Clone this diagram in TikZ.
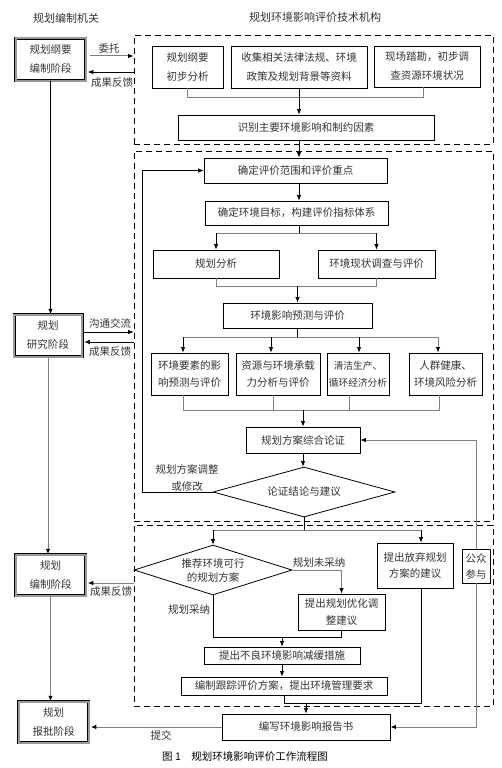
\documentclass[tikz,border=0pt]{standalone}
\usepackage{fontspec}
\setmainfont{Noto Sans CJK SC}
\usetikzlibrary{arrows.meta,shapes.geometric,calc}
\begin{document}
\begin{tikzpicture}[x=1pt,y=-1pt,
  txt/.style={text=black!80,font=\fontsize{10.5}{17}\selectfont,align=center,inner sep=0pt},
  box/.style={txt,draw=black,line width=0.8pt,fill=white},
  dbl/.style={txt,draw=black,line width=0.5pt,double=black!40,double distance=2pt,fill=white},
  dbox/.style={draw=black,line width=0.8pt,dash pattern=on 6pt off 4pt,inner sep=0pt},
  dia/.style={txt,draw=black,line width=0.8pt,diamond,fill=white},
  bl/.style={draw=black,line width=0.8pt},
  gl/.style={draw=black!50,line width=1pt},
  arr/.style={-{Latex[length=5.5pt,width=4.5pt,color=black]}}
]
\useasboundingbox (0,0) rectangle (502,768);

% titles
\node[txt,font=\fontsize{11}{13}\selectfont] (t1) at (66,18) {规划编制机关};
\node[txt,font=\fontsize{11}{13}\selectfont] (t2) at (315,17) {规划环境影响评价技术机构};

% dashed regions
\node[dbox,minimum width=359pt,minimum height=109pt] (D1) at (313.5,89.5) {};
\node[dbox,minimum width=359pt,minimum height=370pt] (D2) at (313.5,336) {};
\node[dbox,minimum width=359pt,minimum height=181pt] (D3) at (313.5,615.5) {};

% left column
\node[dbl,minimum width=70pt,minimum height=42pt,font=\fontsize{10.5}{19}\selectfont] (L1) at (50.5,59.5) {规划纲要\\编制阶段};
\node[dbl,minimum width=68pt,minimum height=42pt,font=\fontsize{10.5}{19}\selectfont] (L2) at (48,335.5) {规划\\研究阶段};
\node[dbl,minimum width=70pt,minimum height=41pt,font=\fontsize{10.5}{19}\selectfont] (L3) at (50.5,575) {规划\\编制阶段};
\node[dbl,minimum width=70pt,minimum height=41pt,font=\fontsize{10.5}{19}\selectfont] (L4) at (53.5,722) {规划\\报批阶段};

% top section
\node[box,minimum width=71pt,minimum height=42pt,font=\fontsize{10.5}{19}\selectfont] (A1) at (187.5,67) {规划纲要\\初步分析};
\node[box,minimum width=136pt,minimum height=42pt,font=\fontsize{10.5}{19}\selectfont] (A2) at (299,67) {收集相关法律法规、环境\\政策及规划背景等资料};
\node[box,minimum width=106pt,minimum height=41pt,font=\fontsize{10.5}{19}\selectfont] (A3) at (427,66.5) {现场踏勘，初步调\\查资源环境状况};
\node[box,minimum width=256pt,minimum height=25pt] (A4) at (306,127.5) {识别主要环境影响和制约因素};

% middle section
\node[box,minimum width=183pt,minimum height=25pt] (B1) at (295.5,170.5) {确定评价范围和评价重点};
\node[box,minimum width=183pt,minimum height=24pt] (B2) at (296.5,213) {确定环境目标，构建评价指标体系};
\node[box,minimum width=126pt,minimum height=28pt] (B3) at (216,264) {规划分析};
\node[box,minimum width=117pt,minimum height=28pt] (B4) at (376.5,264) {环境现状调查与评价};
\node[box,minimum width=149pt,minimum height=25pt] (B5) at (297.5,315.5) {环境影响预测与评价};
\node[box,minimum width=77pt,minimum height=42pt] (C1) at (189.5,374) {环境要素的影\\响预测与评价};
\node[box,minimum width=84pt,minimum height=42pt] (C2) at (278,374) {资源与环境承载\\力分析与评价};
\node[box,minimum width=62pt,minimum height=42pt,font=\fontsize{9.7}{17}\selectfont] (C3) at (358,374) {清洁生产、\\循环经济分析};
\node[box,minimum width=73pt,minimum height=42pt] (C4) at (445.5,374) {人群健康、\\环境风险分析};
\node[box,minimum width=114pt,minimum height=26pt] (B6) at (303,440) {规划方案综合论证};
\node[dia,shape aspect=3.64,minimum width=182pt,minimum height=50pt] (DM1) at (304,492) {论证结论与建议};
\node[txt] (adj) at (187,478) {规划方案调整\\或修改};

% bottom section
\node[dia,shape aspect=3.16,minimum width=158pt,minimum height=50pt,font=\fontsize{10.5}{14}\selectfont] (DM2) at (213,570) {推荐环境可行\\的规划方案};
\node[box,minimum width=76pt,minimum height=45pt,font=\fontsize{10.5}{16.5}\selectfont] (E1) at (415,565.5) {提出放弃规划\\方案的建议};
\node[box,minimum width=28pt,minimum height=34pt,font=\fontsize{10.5}{16}\selectfont] (E2) at (476,566) {公众\\参与};
\node[box,minimum width=87pt,minimum height=36pt] (E3) at (341.5,612) {提出规划优化调\\整建议};
\node[box,minimum width=156pt,minimum height=17pt] (F1) at (282,655.5) {提出不良环境影响减缓措施};
\node[box,minimum width=206pt,minimum height=18pt] (F2) at (284,686) {编制跟踪评价方案，提出环境管理要求};
\node[box,minimum width=168pt,minimum height=26pt] (F3) at (306,727) {编写环境影响报告书};
\node[txt] (wna) at (319,563) {规划未采纳};
\node[txt] (cna) at (189,609) {规划采纳};

% left labels
\node[txt] (wt) at (109,49) {委托};
\node[txt] (fk1) at (112,83) {成果反馈};
\node[txt] (gt) at (110,323) {沟通交流};
\node[txt] (fk2) at (110,352) {成果反馈};
\node[txt] (fk3) at (111,592) {成果反馈};
\node[txt] (tj) at (161,735) {提交};
\node[txt,text=black] (cap) at (245,757) {图 1\quad 规划环境影响评价工作流程图};

% left column connectors
\draw[bl,arr] (L1.south) -- (L1.south |- L2.north);
\draw[gl,arr] (L2.south) -- (L2.south |- L3.north);
\draw[gl,arr] (L3.south) -- (L3.south |- L4.north);

\draw[gl,arr] ([xshift=4pt,yshift=3.5pt]L1.east) -- ([yshift=3.5pt]L1.east -| D1.west);
\draw[bl,arr] ([yshift=-12.5pt]L1.east -| D1.west) -- ([xshift=2pt,yshift=-12.5pt]L1.east);
\draw[bl,arr] ([xshift=2pt,yshift=3.5pt]L2.east) -- ([yshift=3.5pt]L2.east -| D2.west);
\draw[bl,arr] ([yshift=-6.5pt]L2.east -| D2.west) -- ([xshift=2pt,yshift=-6.5pt]L2.east);
\draw[gl,arr] ([yshift=-8pt]L3.east -| D3.west) -- ([xshift=2pt,yshift=-8pt]L3.east);
\draw[gl,arr] (F3.west) -- ([xshift=2pt]F3.west -| L4.east);

% top section connectors
\draw[gl] (A1.south) -- ++(0,9) -| ([xshift=-4pt]A3.south);
\draw[bl,arr] (A2.south) -- (A2.south |- A4.north);
\draw[bl,arr] (A2.south |- A4.south) -- (A2.south |- B1.north);
\draw[bl,arr] (A2.south |- B1.south) -- (A2.south |- B2.north);

% B2 -> B3, B4
\coordinate (j1) at ($(A2.south |- B2.south)+(0,8)$);
\draw[bl] (A2.south |- B2.south) -- (j1);
\draw[gl] (B3.north |- j1) -- (B4.north |- j1);
\draw[bl,arr] (B3.north |- j1) -- (B3.north);
\draw[bl,arr] (B4.north |- j1) -- (B4.north);

% B3, B4 -> B5
\coordinate (j2) at ($(B3.south)+(0,8)$);
\draw[gl] (B3.south) -- (j2) -| (B4.south);
\draw[bl,arr] (B5.north |- j2) -- (B5.north);

% B5 -> C
\coordinate (j3) at ($(B5.south)+(0,9)$);
\coordinate (c1a) at ([xshift=-6.5pt]C1.north);
\coordinate (c2a) at ([xshift=-7pt]C2.north);
\coordinate (c3a) at ([xshift=1pt]C3.north);
\coordinate (c4a) at ([xshift=-7.5pt]C4.north);
\draw[bl] (B5.south) -- (B5.south |- j3);
\draw[gl] (c1a |- j3) -- (c4a |- j3);
\draw[bl,arr] (c1a |- j3) -- (c1a);
\draw[bl,arr] (c2a |- j3) -- (c2a);
\draw[bl,arr] (c3a |- j3) -- (c3a);
\draw[gl,arr] (c4a |- j3) -- (c4a);

% C -> B6
\coordinate (j4) at ($(C1.south)+(0,15)$);
\coordinate (c1b) at ([xshift=-6.5pt]C1.south);
\coordinate (c2b) at ([xshift=-5pt]C2.south);
\coordinate (c3b) at ([xshift=-9pt]C3.south);
\coordinate (c4b) at ([xshift=-6.5pt]C4.south);
\draw[gl] (c1b) -- (c1b |- j4) -- (c4b |- j4) -- (c4b);
\draw[gl] (c2b) -- (c2b |- j4);
\draw[gl] (c3b) -- (c3b |- j4);
\draw[bl,arr] (B6.north |- j4) -- (B6.north);

% B6 -> DM1, feedback
\draw[bl,arr] (B6.south) -- (B6.south |- DM1.north);
\draw[bl,arr] (DM1.west) -- ++(-70,0) |- (B1.west);

% DM1 -> DM2, E1
\coordinate (j5) at ($(DM1.south)+(0,13)$);
\coordinate (e1a) at ([xshift=6pt]E1.north);
\draw[bl] (DM1.south) -- (j5);
\draw[gl] (DM2.north |- j5) -- (e1a |- j5);
\draw[bl,arr] (DM2.north |- j5) -- (DM2.north);
\draw[bl,arr] (e1a |- j5) -- (e1a);

% DM2 -> E3, F1
\draw[gl,arr] (DM2.east) -| (E3.north);
\coordinate (j6) at ($(E3.south)+(0,7)$);
\draw[bl] (DM2.south) -- (DM2.south |- j6) -- (E3.south |- j6) -- (E3.south);
\draw[bl,arr] (F1.north |- j6) -- (F1.north);
\draw[bl,arr] (F1.south) -- (F1.south |- F2.north);

% F2, E1 -> F3
\coordinate (j7) at ($(F2.south)+(0,8)$);
\coordinate (e1b) at ([xshift=6pt]E1.south);
\draw[bl] (F2.south) -- (F2.south |- j7) -- (e1b |- j7) -- (e1b);
\draw[bl,arr] (F3.north |- j7) -- (F3.north);

% public participation
\draw[gl,arr] (E2.north) |- (B6.east);
\draw[gl,arr] (E2.south) |- (F3.east);
\end{tikzpicture}
\end{document}
